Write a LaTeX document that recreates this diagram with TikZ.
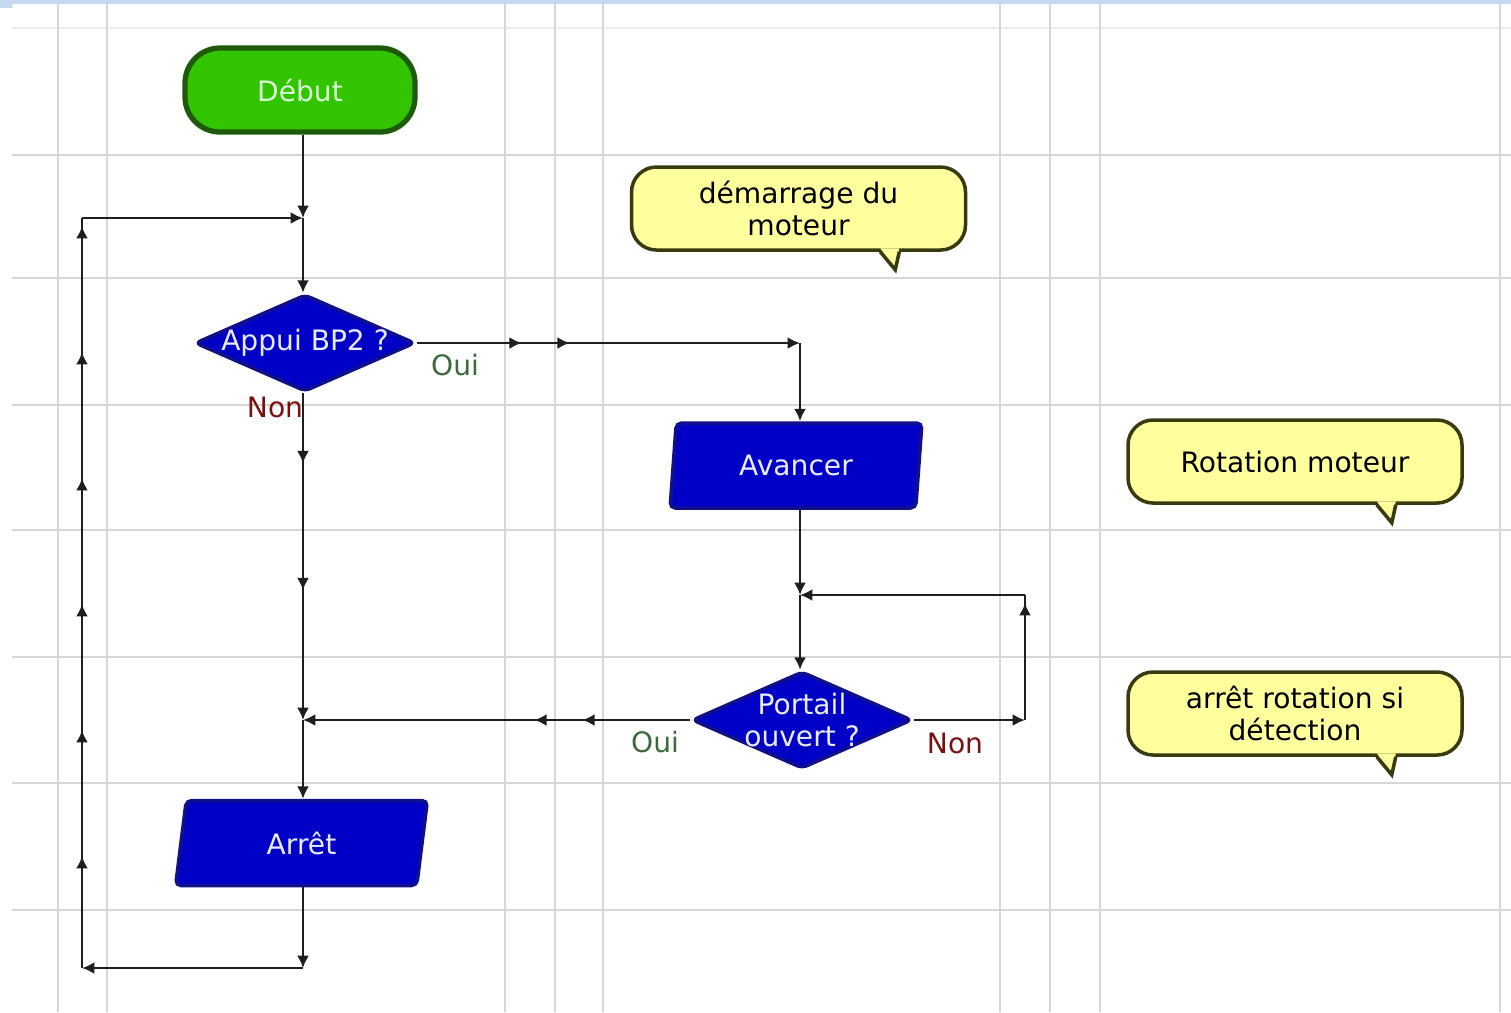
\documentclass[tikz,border=0pt]{standalone}
\usepackage{fontspec}
\setmainfont{DejaVu Sans}
\usetikzlibrary{shapes.geometric,arrows.meta,decorations.markings}

\definecolor{grille}{HTML}{D6D6D6}
\definecolor{bandeau}{HTML}{C6D9F0}
\definecolor{trait}{HTML}{1E1E1E}
\definecolor{vert}{HTML}{33C400}
\definecolor{vertfonce}{HTML}{1E5A0A}
\definecolor{bleu}{HTML}{0000C6}
\definecolor{bleufonce}{HTML}{10108A}
\definecolor{jaune}{HTML}{FFFF9E}
\definecolor{bordjaune}{HTML}{3A3A10}
\definecolor{txtoui}{HTML}{3C6A3C}
\definecolor{txtnon}{HTML}{7A1010}

\newcommand\petit{\fontsize{8}{9.3}\selectfont}

\tikzset{
    lien/.style={draw=trait, line width=0.8pt},
    marque/.style={postaction={decorate, decoration={markings,
        mark=at position #1 with {\arrow{Latex[length=3.5pt,width=3.4pt]}}}}},
    depart/.style={rectangle, rounded corners=0.35cm, minimum width=2.3cm,
        minimum height=0.84cm, fill=vert, draw=vertfonce, line width=1.5pt,
        text=green!15, font=\petit},
    test/.style={diamond, aspect=2.27, minimum width=2.2cm, minimum height=0.97cm,
        inner sep=0pt, fill=bleu, draw=bleufonce, line width=1pt, rounded corners=1.5pt},
    action/.style={trapezium, trapezium left angle=82, trapezium right angle=98,
        trapezium stretches=true, minimum width=2.52cm, minimum height=0.85cm,
        inner sep=0pt, fill=bleu, draw=bleufonce, line width=1pt, rounded corners=1.5pt,
        text=blue!8, font=\petit},
    txtbleu/.style={text=blue!8, font=\petit, align=center, inner sep=0pt},
    bulle/.style={rectangle, rounded corners=0.25cm, minimum width=3.34cm,
        minimum height=0.83cm, fill=jaune, draw=bordjaune, line width=1pt,
        align=center, font=\petit},
    oui/.style={text=txtoui, font=\petit},
    non/.style={text=txtnon, font=\petit}
}

\begin{document}
\begin{tikzpicture}[>={Latex[length=3.5pt,width=3.4pt]}]
    \useasboundingbox (0, 0) rectangle (15.11, -10.12);
    \fill[white] (0, 0) rectangle (15.11, -10.12);
    \fill[bandeau] (0, 0) rectangle (15.11, -0.04);
    \fill[bandeau] (0, 0) rectangle (0.12, -0.08);
    % grille de fond
    \draw[grille!50, line width=0.4pt] (0.12, -0.28) -- (15.11, -0.28);
    \foreach \y in {1.55, 2.78, 4.05, 5.30, 6.57, 7.83, 9.10}
    {
        \draw[grille, line width=0.4pt] (0.12, -\y) -- (15.11, -\y);
    }
    \foreach \x in {0.58, 1.07, 5.05, 5.55, 6.03, 10.00, 10.50, 11.00, 15.00}
    {
        \draw[grille, line width=0.4pt] (\x, -0.04) -- (\x, -10.12);
    }

    % blocs
    \node[depart] (debut) at (3.00, -0.90) {Début};
    \node[test, label={[txtbleu]center:Appui BP2 ?}] (appui) at (3.05, -3.43) {};
    \node[action] (avancer) at (7.96, -4.655) {Avancer};
    \node[test, label={[txtbleu]center:Portail\\ouvert ?}] (portail) at (8.02, -7.20) {};
    \node[action] (arret) at (3.015, -8.43) {Arrêt};

    % points de jonction
    \coordinate (j1) at (3.03, -2.18);
    \coordinate (j2) at (3.03, -7.20);
    \coordinate (bas) at (3.03, -9.68);
    \coordinate (basg) at (0.82, -9.68);
    \coordinate (hautg) at (0.82, -2.18);
    \coordinate (coui) at (8.00, -3.43);
    \coordinate (j3) at (8.00, -5.95);
    \coordinate (cnon) at (10.25, -7.20);
    \coordinate (cnonh) at (10.25, -5.95);

    % liaisons
    \draw[lien, ->] (j1 |- debut.south) -- (j1);
    \draw[lien, ->] (j1) -- (j1 |- appui.north);
    \draw[lien, ->, marque=0.70cm, marque=1.97cm] (j2 |- appui.south) -- (j2);
    \draw[lien, ->] (j2) -- (j2 |- arret.north);
    \draw[lien, ->] (j2 |- arret.south) -- (bas);
    \draw[lien, ->] (bas) -- (basg);
    \draw[lien, marque=1.12cm, marque=2.38cm, marque=3.64cm, marque=4.90cm,
        marque=6.16cm, marque=7.42cm] (basg) -- (hautg);
    \draw[lien, ->] (hautg) -- (j1);
    \draw[lien, ->, marque=1.05cm, marque=1.53cm] (appui.east) -- (coui);
    \draw[lien, ->] (coui) -- (coui |- avancer.north);
    \draw[lien, ->] (coui |- avancer.south) -- (j3);
    \draw[lien, ->] (j3) -- (j3 |- portail.north);
    \draw[lien, ->] (portail.east) -- (cnon);
    \draw[lien, marque=1.17cm] (cnon) -- (cnonh);
    \draw[lien, ->] (cnonh) -- (j3);
    \draw[lien, ->, marque=1.08cm, marque=1.56cm] (portail.west) -- (j2);

    % etiquettes
    \node[oui] (oui1) at (4.55, -3.65) {Oui};
    \node[non] (non1) at (2.75, -4.07) {Non};
    \node[oui] (oui2) at (6.55, -7.42) {Oui};
    \node[non] (non2) at (9.55, -7.43) {Non};

    % commentaires
    \node[bulle] (bdemarrage) at (7.985, -2.085) {démarrage du\\moteur};
    \node[bulle] (brotation) at (12.95, -4.615) {Rotation moteur};
    \node[bulle] (barret) at (12.95, -7.135) {arrêt rotation si\\détection};
    \foreach \b in {bdemarrage, brotation, barret}
    {
        \path ([xshift=-0.87cm]\b.south east) coordinate (qa)
              ([xshift=-0.68cm]\b.south east) coordinate (qb)
              ([xshift=-0.72cm, yshift=-0.18cm]\b.south east) coordinate (qt);
        \fill[jaune] ([yshift=1pt]qa) -- (qt) -- ([yshift=1pt]qb) -- cycle;
        \draw[draw=bordjaune, line width=1pt] (qa) -- (qt) -- (qb);
    }
\end{tikzpicture}
\end{document}
